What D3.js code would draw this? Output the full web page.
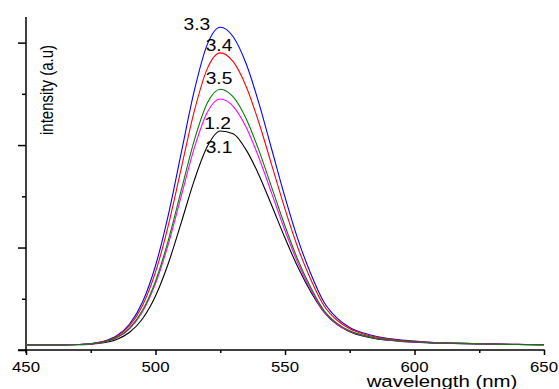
<!DOCTYPE html>
<html>
<head>
<meta charset="utf-8">
<script src="https://cdn.jsdelivr.net/npm/d3@7"></script>
<style>
  body { margin: 0; background: #fff; }
  text { font-family: "Liberation Sans", Arial, sans-serif; fill: #000; }
</style>
</head>
<body>
<svg id="chart" width="559" height="389"></svg>
<script>
// wavelength grid (nm)
var wavelengths = [450,455,460,465,470,475,480,485,490,495,500,505,510,515,520,525,530,535,540,545,
  550,555,560,565,570,575,580,585,590,595,600,605,610,615,620,625,630,635,640,645,650];

// intensity (a.u), one array per sample
var s33 = [0.10,0.10,0.10,0.10,0.107,0.124,0.168,0.277,0.507,0.937,1.644,2.648,3.863,5.066,5.965,6.30,6.114,5.587,4.806,3.894,
  2.983,2.158,1.483,0.937,0.627,0.441,0.336,0.267,0.224,0.193,0.174,0.156,0.143,0.137,0.131,0.125,0.119,0.112,0.109,0.106,0.105];
var s34 = [0.10,0.10,0.10,0.102,0.107,0.122,0.163,0.263,0.474,0.870,1.519,2.443,3.560,4.666,5.492,5.80,5.629,5.145,4.426,3.588,
  2.751,1.992,1.371,0.870,0.585,0.414,0.317,0.254,0.214,0.186,0.168,0.151,0.140,0.134,0.129,0.123,0.117,0.111,0.109,0.106,0.105];
var s35 = [0.10,0.10,0.10,0.101,0.106,0.119,0.155,0.243,0.428,0.774,1.343,2.151,3.129,4.097,4.821,5.09,4.940,4.516,3.887,3.154,
  2.420,1.757,1.213,0.774,0.524,0.374,0.290,0.235,0.200,0.175,0.160,0.145,0.135,0.130,0.125,0.120,0.115,0.110,0.107,0.105,0.104];
var s12 = [0.10,0.10,0.10,0.101,0.106,0.119,0.153,0.237,0.415,0.748,1.295,2.073,3.014,3.945,4.641,4.90,4.756,4.348,3.743,3.038,
  2.332,1.694,1.170,0.748,0.508,0.364,0.282,0.230,0.196,0.172,0.158,0.143,0.134,0.129,0.124,0.119,0.114,0.110,0.107,0.105,0.104];
var s31 = [0.10,0.10,0.10,0.101,0.104,0.114,0.141,0.206,0.346,0.611,1.054,1.699,2.497,3.316,3.970,4.274,4.219,3.906,3.408,2.805,
  2.185,1.615,1.134,0.746,0.501,0.357,0.273,0.222,0.190,0.168,0.153,0.141,0.131,0.126,0.122,0.118,0.114,0.109,0.107,0.105,0.103];

var seriesNames = ["3.1", "3.3", "3.4", "1.2", "3.5"];
var seriesValues = [s31, s33, s34, s12, s35];
var seriesColors = ["#000000", "#0000ff", "#ff0000", "#ff00ff", "#008000"];

// curve labels as written on the plot (wavelength, intensity of the text baseline)
var labelNames = ["3.3", "3.4", "3.5", "1.2", "3.1"];
var labelWave = [516, 524.5, 524.5, 524, 524.5];
var labelLevel = [6.25, 5.84, 5.19, 4.31, 3.85];

var xMajor = [450, 500, 550, 600, 650];
var xMinor = [475, 525, 575, 625];
var yMajor = [0, 2, 4, 6];
var yMinor = [1, 3, 5];

var svg = d3.select("#chart");
var stretch = 1.2; // text in the picture is drawn a little wide

var x = d3.scaleLinear().domain([450, 650]).range([26, 544]);
var y = d3.scaleLinear().domain([0, 6.5]).range([350, 17]);

function stretchedText(g, px, py, str, size, anchor) {
  return g.append("text")
    .attr("transform", "translate(" + px + "," + py + ") scale(" + stretch + ",1)")
    .attr("text-anchor", anchor || "middle")
    .style("font-size", size + "px")
    .text(str);
}

// axes: major and minor ticks, domain lines drawn separately
var xAxisMajor = d3.axisBottom(x).tickValues(xMajor).tickSize(5).tickFormat("");
var xAxisMinor = d3.axisBottom(x).tickValues(xMinor).tickSize(3).tickFormat("");
var yAxisMajor = d3.axisLeft(y).tickValues(yMajor).tickSize(8).tickFormat("");
var yAxisMinor = d3.axisLeft(y).tickValues(yMinor).tickSize(4).tickFormat("");

[xAxisMajor, xAxisMinor].forEach(function(ax) {
  svg.append("g").attr("transform", "translate(0," + y(0) + ")").call(ax)
    .call(function(g) { g.select(".domain").remove(); })
    .selectAll("line").attr("stroke", "#000").attr("stroke-width", 1.5);
});
[yAxisMajor, yAxisMinor].forEach(function(ax) {
  svg.append("g").attr("transform", "translate(" + x(450) + ",0)").call(ax)
    .call(function(g) { g.select(".domain").remove(); })
    .selectAll("line").attr("stroke", "#000").attr("stroke-width", 1.5);
});

svg.append("line")
  .attr("x1", x(450) - 8).attr("x2", x(650) + 0.75)
  .attr("y1", y(0)).attr("y2", y(0))
  .attr("stroke", "#000").attr("stroke-width", 1.5);
svg.append("line")
  .attr("x1", x(450)).attr("x2", x(450))
  .attr("y1", y(6.5)).attr("y2", y(0) + 3)
  .attr("stroke", "#000").attr("stroke-width", 1.5);

// x tick labels
xMajor.forEach(function(v) {
  stretchedText(svg, x(v), y(0) + 22, v, 14);
});

// axis titles
stretchedText(svg, 442, 387, "wavelength (nm)", 17);
svg.append("text")
  .attr("transform", "translate(53,90) scale(" + stretch + ",1) rotate(-90)")
  .attr("text-anchor", "middle")
  .style("font-size", "15px")
  .text("intensity (a.u)");

// spectra
var line = d3.line()
  .x(function(d) { return x(d[0]); })
  .y(function(d) { return y(d[1]); })
  .curve(d3.curveMonotoneX);

seriesValues.forEach(function(vals, i) {
  svg.append("path")
    .datum(wavelengths.map(function(w, j) { return [w, vals[j]]; }))
    .attr("class", "spectrum s" + seriesNames[i])
    .attr("fill", "none")
    .attr("stroke", seriesColors[i])
    .attr("stroke-width", 1.1)
    .attr("d", line);
});

// curve labels
labelNames.forEach(function(name, i) {
  stretchedText(svg, x(labelWave[i]), y(labelLevel[i]), name, 16);
});
</script>
</body>
</html>
